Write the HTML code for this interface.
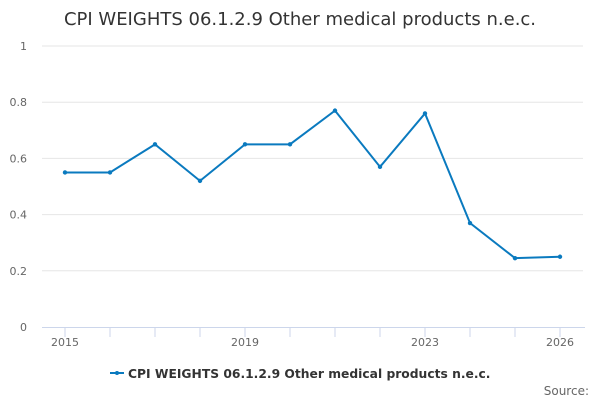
<!DOCTYPE html>
<html><head><meta charset="utf-8"><style>
body{margin:0;background:#fff;font-family:"DejaVu Sans","Liberation Sans",sans-serif}
svg text{font-family:"DejaVu Sans","Liberation Sans",sans-serif}
</style></head><body>
<svg id="c" width="600" height="400" xmlns="http://www.w3.org/2000/svg">
<text x="300" y="25" text-anchor="middle" font-size="18" fill="#333">CPI WEIGHTS 06.1.2.9 Other medical products n.e.c.</text>
<g id="grid"></g><g id="xaxis"></g><g id="series"></g>
<g>
<line x1="110" y1="373" x2="124" y2="373" stroke="#0a7abf" stroke-width="2"/>
<circle cx="117" cy="373" r="2" fill="#0a7abf"/>
<text x="128" y="378" font-size="12.3" font-weight="bold" fill="#333">CPI WEIGHTS 06.1.2.9 Other medical products n.e.c.</text>
</g>
<text x="589" y="395" text-anchor="end" font-size="12" fill="#666">Source:</text>
</svg>
<script>
const years=[2015,2016,2017,2018,2019,2020,2021,2022,2023,2024,2025,2026];
const values=[0.55,0.55,0.65,0.52,0.65,0.65,0.77,0.57,0.76,0.37,0.245,0.25];
const yTicks=[0,0.2,0.4,0.6,0.8,1];
const yTickLabels=["0","0.2","0.4","0.6","0.8","1"];
const xLabelYears=[2015,2019,2023,2026];
const NS="http://www.w3.org/2000/svg";
const xs=y=>65+(y-2015)*(560-65)/11;
const ys=v=>327-v*281;
function mk(t,a,p){const e=document.createElementNS(NS,t);for(const k in a)e.setAttribute(k,a[k]);p.appendChild(e);return e;}
const g=document.getElementById('grid');
yTicks.forEach((t,i)=>{
 if(t>0){const l=mk('line',{x1:42,x2:583,y1:ys(t),y2:ys(t),stroke:'#e6e6e6'},g);
 
 }
 const tx=mk('text',{x:27,y:ys(t)+4,'text-anchor':'end','font-size':11,fill:'#666'},g);tx.textContent=yTickLabels[i];
 
 
});
const xa=document.getElementById('xaxis');
const al=mk('line',{x1:42,x2:585,y1:327.5,y2:327.5,stroke:'#ccd6eb'},xa);


years.forEach(y=>{
 const t=mk('line',{x1:xs(y),x2:xs(y),y1:327,y2:337,stroke:'#ccd6eb'},xa);
 
 
});
xLabelYears.forEach(y=>{
 const t=mk('text',{x:xs(y),y:346,'text-anchor':'middle','font-size':11,fill:'#666'},xa);t.textContent=y;
 
 
});
const s=document.getElementById('series');
const pl=mk('polyline',{points:years.map((y,i)=>xs(y)+','+ys(values[i])).join(' '),fill:'none',stroke:'#0a7abf','stroke-width':2},s);


years.forEach((y,i)=>{
 const c=mk('circle',{cx:xs(y),cy:ys(values[i]),r:2.2,fill:'#0a7abf'},s);
 
 
});
</script>
</body></html>
